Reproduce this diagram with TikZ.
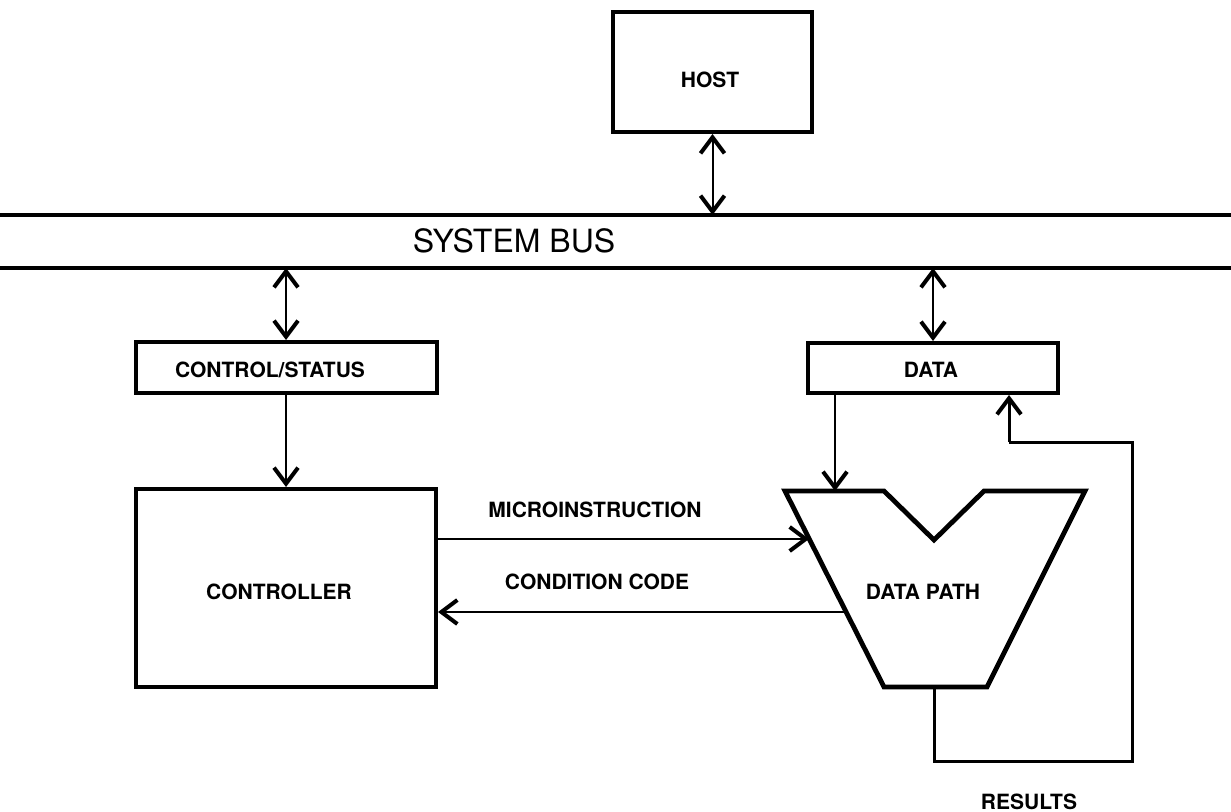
\documentclass[tikz,border=0pt]{standalone}
\usepackage{fontspec}
\setmainfont{TeX Gyre Heros}
\usetikzlibrary{arrows.meta}
\tikzset{
  box/.style={draw, line width=2pt, rectangle, inner sep=0pt},
  lbl/.style={font=\bfseries\fontsize{10.5pt}{12pt}\selectfont, inner sep=0pt},
  busline/.style={line width=2pt},
  shaft/.style={line width=1pt},
  tipa/.style={line width=1pt, -{Straight Barb[length=8pt,width=12pt,line width=2pt]}},
  tipd/.style={line width=1pt, {Straight Barb[length=8pt,width=12pt,line width=2pt]}-{Straight Barb[length=8pt,width=12pt,line width=2pt]}},
  loopline/.style={line width=1.5pt}
}
\begin{document}
\begin{tikzpicture}[x=0.5pt,y=-0.5pt]
\useasboundingbox (0,0) rectangle (1231,812);
% bus
\coordinate (bl1) at (0,215);
\coordinate (br1) at (1231,215);
\coordinate (bl2) at (0,268);
\coordinate (br2) at (1231,268);
\draw[busline] (bl1) -- (br1);
\draw[busline] (bl2) -- (br2);
\node[inner sep=0pt, font=\fontsize{16pt}{19pt}\selectfont] (sysbus) at (514,241) {SYSTEM BUS};
% host
\node[box, minimum width=99.5pt, minimum height=60pt] (host) at (712.5,72) {};
\node[lbl] (hosttxt) at (710,80) {HOST};
% control/status
\node[box, minimum width=150.5pt, minimum height=25.5pt] (cs) at (286,367.5) {};
\node[lbl] (cstxt) at (270,370) {CONTROL/STATUS};
% data
\node[box, minimum width=125pt, minimum height=25pt] (data) at (933,368) {};
\node[lbl] (datatxt) at (931,370) {DATA};
% controller
\node[box, minimum width=150pt, minimum height=99pt] (ctrl) at (286,588) {};
\node[lbl] (ctrltxt) at (279,592) {CONTROLLER};
% data path
\coordinate (p1) at (785,491);
\coordinate (p2) at (884,491);
\coordinate (p3) at (934,540);
\coordinate (p4) at (984,491);
\coordinate (p5) at (1085,491);
\coordinate (p6) at (987,687);
\coordinate (p7) at (884,687);
\draw[line width=2.4pt, line join=miter] (p1) -- (p2) -- (p3) -- (p4) -- (p5) -- (p6) -- (p7) -- cycle;
\node[lbl] (dp) at (923,592) {DATA PATH};
% connectors
\draw[tipd] (host.south) -- (host.south |- bl1);
\draw[tipd] (cs.north |- bl2) -- (cs.north);
\draw[tipd] (data.north |- bl2) -- (data.north);
\draw[tipa] (cs.south) -- (ctrl.north);
\coordinate (dpin) at (835,491);
\draw[tipa] (data.south -| dpin) -- (dpin);
\coordinate (mi) at (809,539);
\coordinate (cc) at (846,612);
\draw[tipa, line width=1.2pt] (ctrl.east |- mi) -- (mi);
\draw[tipa, line width=1.2pt] (cc) -- (ctrl.east |- cc);
\node[lbl] (mitxt) at (595,510) {MICROINSTRUCTION};
\node[lbl] (cctxt) at (597,582) {CONDITION CODE};
% results loop
\coordinate (dpout) at (934,687);
\coordinate (r1) at (934,761);
\coordinate (r2) at (1132,761);
\coordinate (r3) at (1132,442);
\coordinate (r4) at (1009,442);
\draw[loopline, line join=miter] (dpout) -- (r1) -- (r2) -- (r3) -- (r4);
\draw[tipa, line width=1.5pt] (r4) -- (r4 |- data.south);
\node[lbl] (restxt) at (1029,802) {RESULTS};
\end{tikzpicture}
\end{document}
